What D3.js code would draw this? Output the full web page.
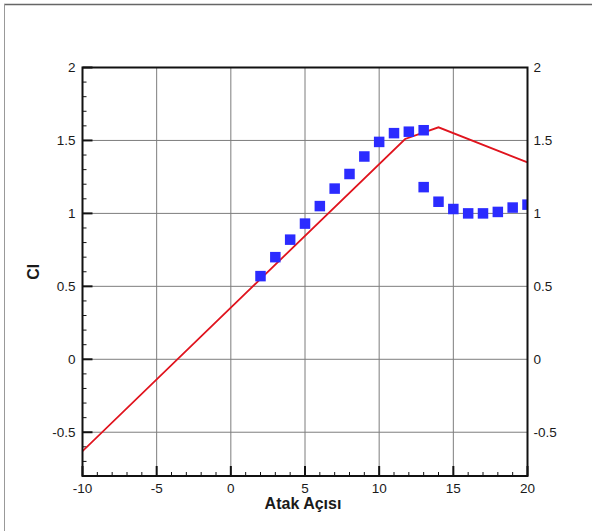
<!DOCTYPE html>
<html>
<head>
<meta charset="utf-8">
<script src="https://cdn.jsdelivr.net/npm/d3@7"></script>
<style>
  body { margin: 0; background: #fff; }
  text { font-family: "Liberation Sans", Arial, sans-serif; fill: #1a1a1a; }
</style>
</head>
<body>
<div id="chart"></div>
<script>
// chart size
const width = 592;
const height = 531;
const margin = {left: 82.5, right: 64.5, top: 67.5, bottom: 55};

// data: experiment (squares)
const expAlpha = [2, 3, 4, 5, 6, 7, 8, 9, 10, 11, 12, 13, 13, 14, 15, 16, 17, 18, 19, 20];
const expCl = [0.57, 0.70, 0.82, 0.93, 1.05, 1.17, 1.27, 1.39, 1.49, 1.55, 1.56, 1.57,
               1.18, 1.08, 1.03, 1.00, 1.00, 1.01, 1.04, 1.06];

// data: computed (red line)
const calcAlpha = [-10, 11.75, 14, 20];
const calcCl = [-0.63, 1.51, 1.59, 1.35];

// axes
const xTicks = [-10, -5, 0, 5, 10, 15, 20];
const yTicks = [-0.5, 0, 0.5, 1, 1.5, 2];
const xLabel = "Atak Açısı";
const yLabel = "Cl";

const svg = d3.select("#chart").append("svg")
    .attr("width", width)
    .attr("height", height);

svg.append("rect").attr("width", width).attr("height", height).attr("fill", "#fff");

// outer frame (top + left only)
svg.append("line").attr("x1", 4).attr("x2", width).attr("y1", 4.5).attr("y2", 4.5)
    .attr("stroke", "#666").attr("stroke-width", 1.5);
svg.append("line").attr("x1", 4.5).attr("x2", 4.5).attr("y1", 4).attr("y2", height)
    .attr("stroke", "#999").attr("stroke-width", 1);

const x = d3.scaleLinear().domain([-10, 20]).range([margin.left, width - margin.right]);
const y = d3.scaleLinear().domain([-0.8, 2]).range([height - margin.bottom, margin.top]);

const x0 = x.range()[0], x1 = x.range()[1];
const y0 = y.range()[0], y1 = y.range()[1];

///
/// GRID
///
const grid = svg.append("g").attr("stroke", "#7d7d7d").attr("stroke-width", 1);
grid.selectAll(".gx").data(xTicks.slice(1, -1)).join("line")
    .attr("x1", d => x(d)).attr("x2", d => x(d))
    .attr("y1", y1).attr("y2", y0);
grid.selectAll(".gy").data(yTicks.slice(0, -1)).join("line")
    .attr("x1", x0).attr("x2", x1)
    .attr("y1", d => y(d)).attr("y2", d => y(d));

///
/// TICKS (inside)
///
const xMinor = d3.range(-10, 20.01, 1).filter(v => v % 5 !== 0);
const yMinor = d3.range(-0.8, 2.001, 0.1).map(v => +v.toFixed(1)).filter(v => Math.abs(v * 2 - Math.round(v * 2)) > 1e-6);

const ticks = svg.append("g").attr("stroke", "#111");
ticks.selectAll(".xm").data(xMinor).join("line")
    .attr("x1", d => x(d)).attr("x2", d => x(d))
    .attr("y1", y0).attr("y2", y0 - 4).attr("stroke-width", 1);
ticks.selectAll(".xM").data(xTicks).join("line")
    .attr("x1", d => x(d)).attr("x2", d => x(d))
    .attr("y1", y0).attr("y2", y0 - 10).attr("stroke-width", 2);
ticks.selectAll(".ym").data(yMinor).join("line")
    .attr("x1", x0).attr("x2", x0 + 4)
    .attr("y1", d => y(d)).attr("y2", d => y(d)).attr("stroke-width", 1);
ticks.selectAll(".yM").data(yTicks).join("line")
    .attr("x1", x0).attr("x2", x0 + 10)
    .attr("y1", d => y(d)).attr("y2", d => y(d)).attr("stroke-width", 2);

///
/// DATA
///
svg.append("clipPath").attr("id", "clip")
    .append("rect").attr("x", x0).attr("y", y1).attr("width", x1 - x0).attr("height", y0 - y1);

const plot = svg.append("g").attr("clip-path", "url(#clip)");

const line = d3.line().x((d, i) => x(calcAlpha[i])).y(d => y(d));
plot.append("path")
    .datum(calcCl)
    .attr("d", line)
    .attr("fill", "none")
    .attr("stroke", "#e0141e")
    .attr("stroke-width", 1.8);

const sq = 10.5;
plot.selectAll(".pt").data(expCl).join("rect")
    .attr("x", (d, i) => x(expAlpha[i]) - sq / 2)
    .attr("y", d => y(d) - sq / 2)
    .attr("width", sq).attr("height", sq)
    .attr("fill", "#2b2bff");

// frame
svg.append("rect")
    .attr("x", x0).attr("y", y1).attr("width", x1 - x0).attr("height", y0 - y1)
    .attr("fill", "none").attr("stroke", "#111").attr("stroke-width", 2);

///
/// LABELS
///
const fmt = d => d < 0 ? "-" + Math.abs(d) : String(d);

svg.append("g").selectAll("text").data(xTicks).join("text")
    .attr("x", d => x(d)).attr("y", y0 + 17)
    .attr("text-anchor", "middle")
    .attr("font-size", 13.5)
    .text(fmt);

svg.append("g").selectAll("text").data(yTicks).join("text")
    .attr("x", x0 - 7).attr("y", d => y(d))
    .attr("dy", "0.36em")
    .attr("text-anchor", "end")
    .attr("font-size", 13.5)
    .text(fmt);

svg.append("g").selectAll("text").data(yTicks).join("text")
    .attr("x", x1 + 6).attr("y", d => y(d))
    .attr("dy", "0.36em")
    .attr("text-anchor", "start")
    .attr("font-size", 13.5)
    .text(fmt);

svg.append("text")
    .attr("x", (x0 + x1) / 2 - 2).attr("y", y0 + 33)
    .attr("text-anchor", "middle")
    .attr("font-size", 16).attr("font-weight", "bold")
    .text(xLabel);

svg.append("text")
    .attr("transform", `translate(39, ${(y0 + y1) / 2}) rotate(-90)`)
    .attr("text-anchor", "middle")
    .attr("font-size", 16).attr("font-weight", "bold")
    .text(yLabel);
</script>
</body>
</html>
